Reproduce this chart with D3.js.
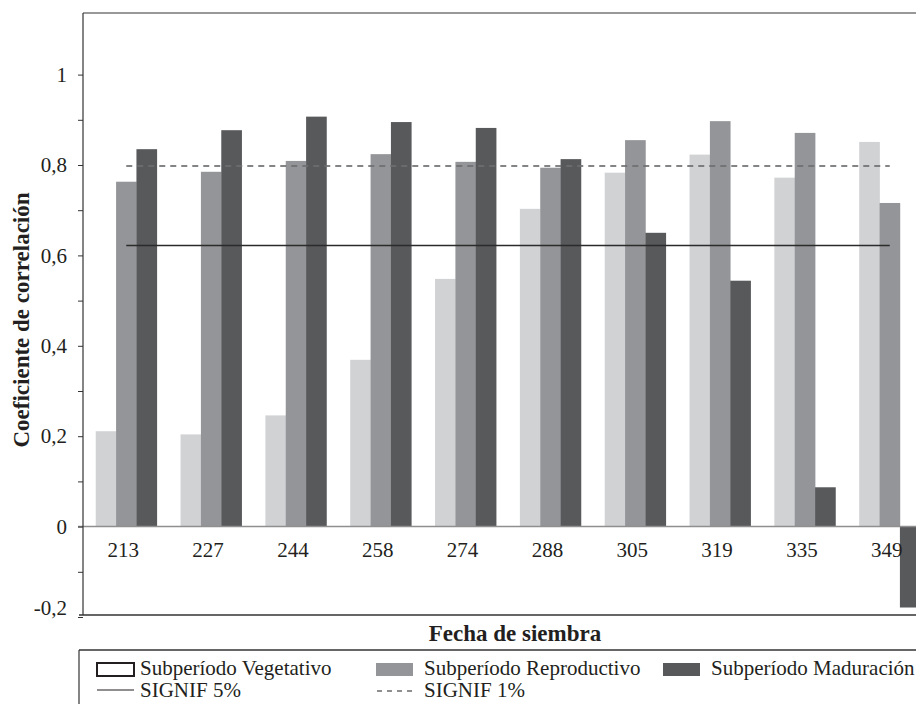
<!DOCTYPE html>
<html>
<head>
<meta charset="utf-8">
<title>Coeficiente de correlación</title>
<style>
  body { margin: 0; background: #fff; }
  svg text { font-family: "Liberation Serif", "Times New Roman", serif; fill: #231f20; }
</style>
</head>
<body>
<svg id="chart" width="916" height="704" font-family="Liberation Serif, serif"></svg>
<script src="https://d3js.org/d3.v7.min.js"></script>
<script>
// sowing dates (x categories)
var fechas = ["213", "227", "244", "258", "274", "288", "305", "319", "335", "349"];

// correlation coefficient per subperiod
var vegetativo   = [0.211, 0.204, 0.246, 0.369, 0.548, 0.703, 0.783, 0.823, 0.772, 0.851];
var reproductivo = [0.763, 0.785, 0.809, 0.824, 0.807, 0.794, 0.855, 0.897, 0.871, 0.716];
var maduracion   = [0.835, 0.877, 0.907, 0.895, 0.882, 0.813, 0.650, 0.544, 0.087, -0.179];

var series = ["Subperíodo Vegetativo", "Subperíodo Reproductivo", "Subperíodo Maduración"];
var colores = ["#d1d2d4", "#949598", "#58595b"];

// significance thresholds
var signif5 = 0.622;
var signif1 = 0.798;

var yTicks = [-0.2, 0, 0.2, 0.4, 0.6, 0.8, 1];
var yMinor = [-0.1, 0.1, 0.3, 0.5, 0.7, 0.9];

var FONT = "'Liberation Serif', 'Times New Roman', serif";

var svg = d3.select("#chart");

var x = d3.scaleBand()
    .domain(fechas)
    .range([83, 933])
    .paddingInner(0.28)
    .paddingOuter(0.15);

var xs = d3.scaleBand()
    .domain(d3.range(3))
    .range([0, x.bandwidth()]);

var y = d3.scaleLinear()
    .domain([-0.2, 1])
    .range([617, 74.6]);

var rows = fechas.map(function(f, i) {
  return { fecha: f, values: [vegetativo[i], reproductivo[i], maduracion[i]] };
});

// bars
var grupo = svg.append("g").selectAll("g")
  .data(rows)
  .enter().append("g")
    .attr("transform", function(d) { return "translate(" + x(d.fecha) + ",0)"; });

grupo.selectAll("rect")
  .data(function(d) { return d.values.map(function(v, k) { return { k: k, v: v }; }); })
  .enter().append("rect")
    .attr("x", function(d) { return xs(d.k); })
    .attr("width", xs.bandwidth() + 0.3)
    .attr("y", function(d) { return y(Math.max(0, d.v)); })
    .attr("height", function(d) { return Math.abs(y(d.v) - y(0)); })
    .attr("fill", function(d) { return colores[d.k]; });

// zero line
svg.append("line")
    .attr("x1", 78).attr("x2", 916)
    .attr("y1", y(0)).attr("y2", y(0))
    .attr("stroke", "#8f8f8f").attr("stroke-width", 1.5);

// significance lines
var x0 = x(fechas[0]) + x.bandwidth() / 2,
    x1 = x(fechas[fechas.length - 1]) + x.bandwidth() / 2;

svg.append("line")
    .attr("x1", x0).attr("x2", x1)
    .attr("y1", y(signif5)).attr("y2", y(signif5))
    .attr("stroke", "#2b2b2b").attr("stroke-width", 1.5);

svg.append("line")
    .attr("x1", x0).attr("x2", x1)
    .attr("y1", y(signif1)).attr("y2", y(signif1))
    .attr("stroke", "#6d6e70").attr("stroke-opacity", 0.85)
    .attr("stroke-width", 2).attr("stroke-dasharray", "6,5");

// frame lines
svg.append("line").attr("x1", 83).attr("x2", 916).attr("y1", 13).attr("y2", 13)
    .attr("stroke", "#333").attr("stroke-width", 1.2);
svg.append("line").attr("x1", 79).attr("x2", 916).attr("y1", 615).attr("y2", 615)
    .attr("stroke", "#333").attr("stroke-width", 1.5);

// y axis
var yAxis = svg.append("g")
    .attr("transform", "translate(83,0)")
    .call(d3.axisLeft(y)
      .tickValues(yTicks.concat(yMinor))
      .tickSize(5)
      .tickPadding(11)
      .tickFormat(function(d) {
        if (yTicks.indexOf(d) < 0) return "";
        return String(+d.toFixed(1)).replace(".", ",");
      }));

yAxis.attr("font-family", FONT).attr("font-size", 21);
yAxis.select(".domain").attr("d", "M0,13V615").attr("stroke", "#333").attr("stroke-width", 1.2);
yAxis.selectAll(".tick line").attr("stroke", "#333");
yAxis.selectAll(".tick text").attr("fill", "#231f20");
yAxis.selectAll(".tick").filter(function(d) { return d === -0.2; })
    .select("text").attr("dy", "-0.1em");

// category labels
svg.append("g").selectAll("text")
  .data(fechas)
  .enter().append("text")
    .attr("x", function(d) { return x(d) + x.bandwidth() / 2 - 3; })
    .attr("y", 557)
    .attr("text-anchor", "middle")
    .attr("font-family", FONT)
    .attr("font-size", 21)
    .text(function(d) { return d; });

// axis titles
svg.append("text")
    .attr("transform", "translate(29,320) rotate(-90)")
    .attr("text-anchor", "middle")
    .attr("font-family", FONT)
    .attr("font-size", 23)
    .attr("font-weight", "bold")
    .text("Coeficiente de correlación");

svg.append("text")
    .attr("x", 515).attr("y", 641)
    .attr("text-anchor", "middle")
    .attr("font-family", FONT)
    .attr("font-size", 23)
    .attr("font-weight", "bold")
    .text("Fecha de siembra");

// legend
svg.append("line").attr("x1", 79).attr("x2", 916).attr("y1", 650).attr("y2", 650)
    .attr("stroke", "#333").attr("stroke-width", 1.5);
svg.append("line").attr("x1", 79).attr("x2", 79).attr("y1", 650).attr("y2", 704)
    .attr("stroke", "#333").attr("stroke-width", 1.2);

var legX = [97, 376, 663];
var leg = svg.append("g").selectAll("g")
  .data(series)
  .enter().append("g")
    .attr("transform", function(d, i) { return "translate(" + legX[i] + ",663)"; });

leg.append("rect")
    .attr("width", 37).attr("height", 13)
    .attr("fill", function(d, i) { return i === 0 ? "#fff" : colores[i]; })
    .attr("stroke", function(d, i) { return i === 0 ? "#231f20" : "none"; })
    .attr("stroke-width", 2);

leg.append("text")
    .attr("x", function(d, i) { return i === 0 ? 43 : 48; })
    .attr("y", 12)
    .attr("font-family", FONT)
    .attr("font-size", 21)
    .text(function(d) { return d; });

svg.append("line").attr("x1", 97).attr("x2", 134).attr("y1", 690).attr("y2", 690)
    .attr("stroke", "#231f20").attr("stroke-width", 1.2);
svg.append("text").attr("x", 140).attr("y", 697)
    .attr("font-family", FONT).attr("font-size", 21).text("SIGNIF 5%");

svg.append("line").attr("x1", 377).attr("x2", 412).attr("y1", 691).attr("y2", 691)
    .attr("stroke", "#231f20").attr("stroke-width", 1.2).attr("stroke-dasharray", "5,5");
svg.append("text").attr("x", 424).attr("y", 697)
    .attr("font-family", FONT).attr("font-size", 21).text("SIGNIF 1%");
</script>
</body>
</html>
